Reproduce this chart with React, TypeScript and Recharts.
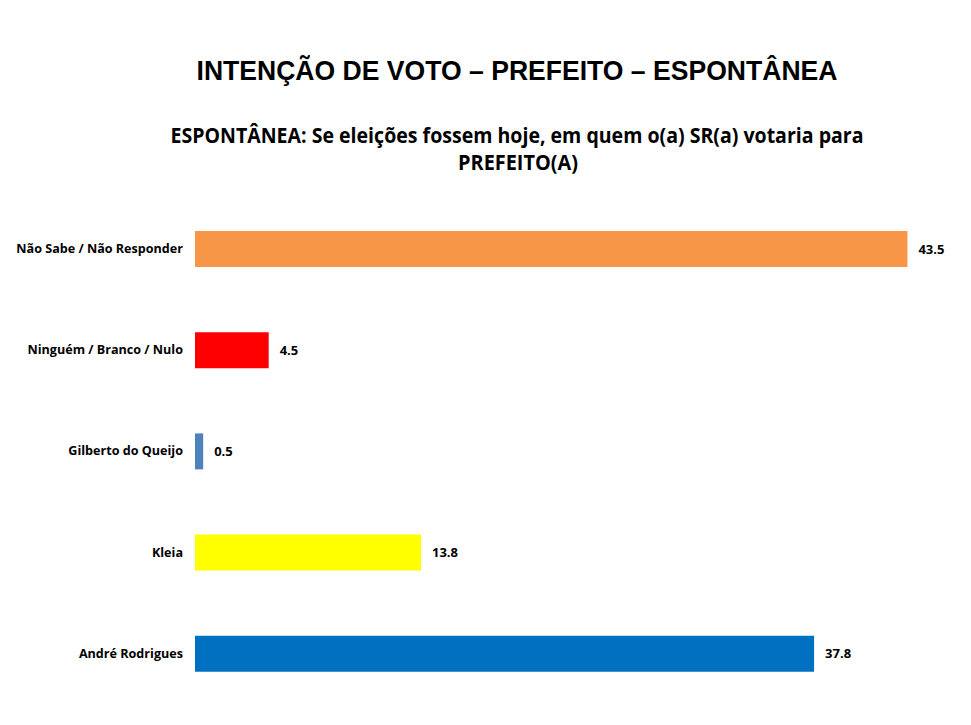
import React from "react"
import { BarChart, Bar, XAxis, YAxis, Cell, LabelList } from "recharts"

const categories = [
  "Não Sabe / Não Responder",
  "Ninguém / Branco / Nulo",
  "Gilberto do Queijo",
  "Kleia",
  "André Rodrigues",
]
const values = [43.5, 4.5, 0.5, 13.8, 37.8]
const barColors = ["#F79646", "#FF0000", "#4F81BD", "#FFFF00", "#0070C0"]

const title = "INTENÇÃO DE VOTO – PREFEITO – ESPONTÂNEA"
const subtitleLines = [
  "ESPONTÂNEA: Se eleições fossem hoje, em quem o(a) SR(a) votaria para",
  "PREFEITO(A)",
]

const data = categories.map((name, i) => ({ name, value: values[i] }))

export default function App() {
  return (
    <div style={{ position: "absolute", left: 0, top: 0, width: 971, height: 725, background: "#fff" }}>
      <svg width={971} height={200} style={{ position: "absolute", left: 0, top: 0 }}>
        <text
          x={517}
          y={80}
          textAnchor="middle"
          fontFamily="'Liberation Sans', Arial, sans-serif"
          fontWeight="bold"
          fontSize={27}
          fill="#000"
          textLength={641}
          lengthAdjust="spacingAndGlyphs"
        >
          {title}
        </text>
        <text
          x={517}
          y={143}
          textAnchor="middle"
          fontFamily="'Open Sans', sans-serif"
          fontWeight="bold"
          fontSize={21}
          fill="#000"
          textLength={693}
          lengthAdjust="spacingAndGlyphs"
        >
          {subtitleLines[0]}
        </text>
        <text
          x={518}
          y={170}
          textAnchor="middle"
          fontFamily="'Open Sans', sans-serif"
          fontWeight="bold"
          fontSize={21}
          fill="#000"
          textLength={120}
          lengthAdjust="spacingAndGlyphs"
        >
          {subtitleLines[1]}
        </text>
      </svg>
      <div style={{ position: "absolute", left: 0, top: 0 }}>
        <BarChart
          width={971}
          height={725}
          data={data}
          layout="vertical"
          margin={{ top: 198, right: 39, bottom: 21, left: 0 }}
          barCategoryGap={0}
        >
          <XAxis type="number" domain={[0, 45]} hide />
          <YAxis
            type="category"
            dataKey="name"
            width={195}
            axisLine={false}
            tickLine={false}
            tickSize={0}
            tickMargin={12}
            interval={0}
            tick={{
              fill: "#000",
              fontSize: 12.6,
              fontWeight: "bold",
              fontFamily: "'Open Sans', sans-serif",
            }}
          />
          <Bar dataKey="value" barSize={36} isAnimationActive={false}>
            {data.map((entry, i) => (
              <Cell key={entry.name} fill={barColors[i]} />
            ))}
            <LabelList
              dataKey="value"
              position="right"
              offset={11}
              formatter={(v: number) => v.toFixed(1)}
              style={{
                fill: "#000",
                fontSize: 13,
                fontWeight: "bold",
                fontFamily: "'Open Sans', sans-serif",
              }}
            />
          </Bar>
        </BarChart>
      </div>
    </div>
  )
}
